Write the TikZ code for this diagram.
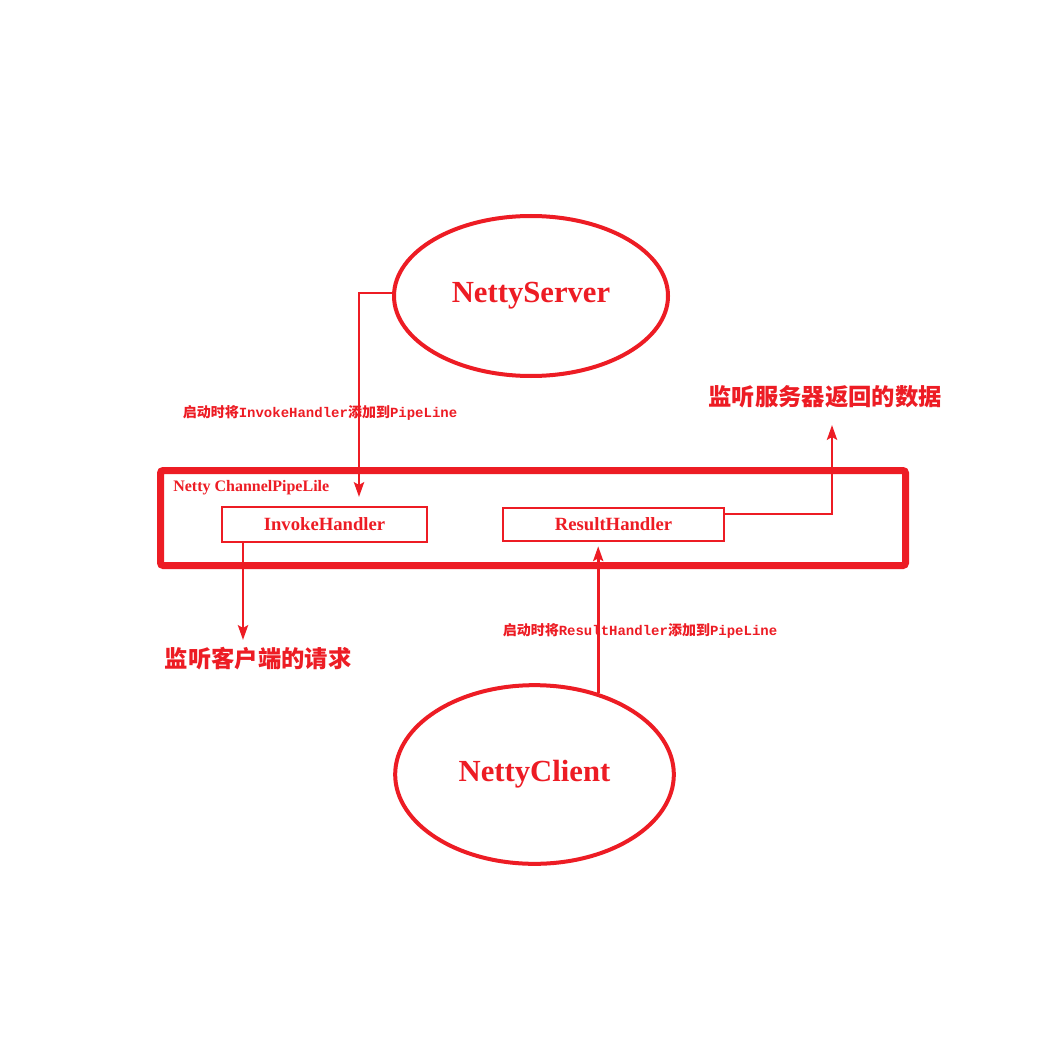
\documentclass[tikz,border=0pt]{standalone}
\usepackage{fontspec}
\setmainfont{Liberation Serif}
\setmonofont{Liberation Mono}
\newfontfamily\cjk{Noto Sans CJK SC}
\usetikzlibrary{arrows.meta,shapes.geometric}
\definecolor{nred}{HTML}{ED1C24}
\begin{document}
\begin{tikzpicture}[x=0.75pt,y=-0.75pt,
  oval/.style={ellipse,draw=nred,line width=3pt,inner sep=0pt,text=nred,font=\bfseries\fontsize{23}{26}\selectfont},
  handler/.style={rectangle,draw=nred,line width=1.9pt,inner sep=0pt,text=nred,font=\bfseries\fontsize{14}{16}\selectfont},
  frame/.style={rectangle,draw=nred,line width=5.25pt,rounded corners=2pt,inner sep=0pt},
  conn/.style={draw=nred,line width=2.2pt,-{Stealth[length=11pt,width=7.5pt,inset=2pt]}},
  small/.style={text=nred,font=\bfseries\fontsize{10.5}{12}\selectfont,inner sep=0pt},
  big/.style={text=nred,font=\cjk\bfseries\fontsize{17.5}{20}\selectfont,inner sep=0pt}]
\useasboundingbox[fill=white] (0,0) rectangle (1037,1037);
% nodes
\node[oval,minimum width=205.5pt,minimum height=120pt] (NS) at (531,296) {NettyServer};
\node[oval,minimum width=209pt,minimum height=134pt] (NC) at (534.5,774.5) {NettyClient};
\node[frame,minimum width=558.75pt,minimum height=71.25pt] (PL) at (533,518) {};
\node[text=nred,font=\bfseries\fontsize{12}{14}\selectfont,anchor=west,inner sep=0pt] (PLT) at (173,488) {Netty ChannelPipeLile};
\node[handler,minimum width=153.75pt,minimum height=26.25pt] (IH) at (324.5,524.5) {InvokeHandler};
\node[handler,minimum width=165.75pt,minimum height=24.75pt] (RH) at (613.5,524.5) {ResultHandler};
% labels
\node[small] (L1) at (320,413) {{\cjk\bfseries 启动时将}\texttt{\bfseries InvokeHandler}{\cjk\bfseries 添加到}\texttt{\bfseries PipeLine}};
\node[small] (L2) at (640,631) {{\cjk\bfseries 启动时将}\texttt{\bfseries ResultHandler}{\cjk\bfseries 添加到}\texttt{\bfseries PipeLine}};
\node[big] (L3) at (258,659) {监听客户端的请求};
\node[big] (L4) at (825,397) {监听服务器返回的数据};
% free ends
\coordinate (a1) at (359,497);
\coordinate (a2) at (243,640);
\coordinate (a3) at (832,425);
% connectors
\draw[conn] ([yshift=2.25pt]NS.west) -| (a1);
\draw[conn] (a2 |- IH.south) -- (a2);
\draw[conn] ([yshift=7.9pt]RH.east) -| (a3);
\draw[conn,shorten >=3pt] (NC.52) -- (NC.52 |- RH.south);
\end{tikzpicture}
\end{document}
